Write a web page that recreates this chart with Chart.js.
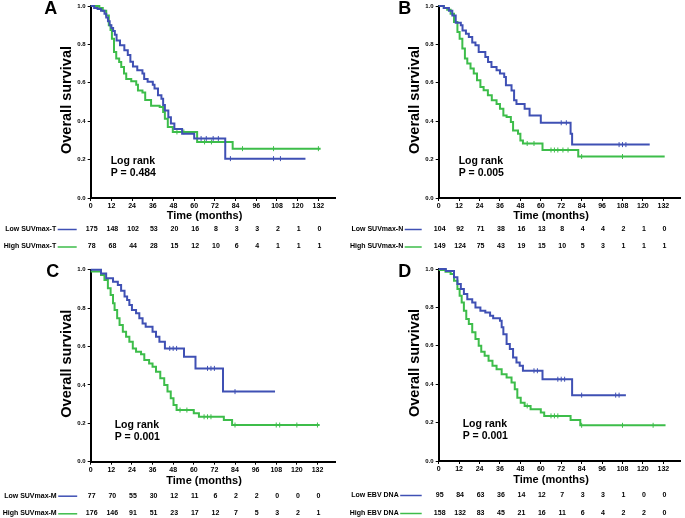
<!DOCTYPE html>
<html>
<head>
<meta charset="utf-8">
<script src="https://cdn.jsdelivr.net/npm/chart.js@4.4.1/dist/chart.umd.min.js"></script>
<style>
  body { margin: 0; background: #fff; }
  #wrap { position: relative; width: 685px; height: 518px; }
  .panel { position: absolute; }
</style>
</head>
<body>
<div id="wrap">
  <canvas class="panel" id="pA" width="340" height="262" style="left:0;top:0"></canvas>
  <canvas class="panel" id="pB" width="345" height="262" style="left:340px;top:0"></canvas>
  <canvas class="panel" id="pC" width="340" height="255" style="left:0;top:263px"></canvas>
  <canvas class="panel" id="pD" width="345" height="255" style="left:340px;top:263px"></canvas>
</div>
<script>
// time axis ticks (months)
var monthTicks = [0, 12, 24, 36, 48, 60, 72, 84, 96, 108, 120, 132];

// survival curves: [month, survival] at each step
var lowSuvT = [[0,1],[2,0.99],[4,0.985],[6,0.975],[8,0.96],[9,0.94],[10,0.92],[11,0.9],[12,0.885],[13,0.87],[14,0.85],[15,0.82],[17,0.795],[19.5,0.77],[21.5,0.745],[23,0.71],[24.5,0.685],[27,0.665],[30,0.648],[31,0.62],[33,0.605],[36,0.59],[37,0.57],[39,0.535],[41,0.517],[42,0.485],[43,0.456],[45,0.42],[46.5,0.388],[48.5,0.36],[53,0.335],[60,0.31],[78,0.205],[124.5,0.205]];
var highSuvT = [[0,1],[5,0.99],[7,0.975],[9,0.95],[10.5,0.9],[11.5,0.875],[12.3,0.83],[13.5,0.76],[14.8,0.727],[16.5,0.708],[17.7,0.682],[19.3,0.648],[20.6,0.62],[23.5,0.608],[26.4,0.59],[27.4,0.56],[30,0.549],[31.6,0.51],[35,0.48],[40,0.474],[42,0.448],[43,0.413],[44.7,0.37],[47.6,0.344],[61.7,0.292],[82.3,0.257],[133.3,0.257]];
var lowSuvN = [[0,1],[3,0.99],[6,0.975],[8,0.95],[10,0.913],[13,0.9],[14,0.873],[16,0.856],[17.7,0.839],[19.7,0.81],[21.6,0.795],[23.5,0.76],[27.4,0.734],[29,0.708],[31,0.682],[34,0.665],[36,0.648],[38.5,0.63],[39.5,0.587],[42.8,0.56],[44.3,0.509],[45.7,0.49],[50.5,0.465],[53.4,0.43],[60,0.392],[77.5,0.335],[78.4,0.278],[124,0.278]];
var highSuvN = [[0,1],[3,0.99],[5,0.98],[7,0.96],[9,0.917],[11,0.865],[12.3,0.83],[13.9,0.778],[15.4,0.726],[16.8,0.7],[18.7,0.674],[20.6,0.648],[22.5,0.613],[24.5,0.578],[26.4,0.561],[28.9,0.535],[31.2,0.509],[34,0.49],[36,0.465],[38,0.43],[39.9,0.422],[42.4,0.396],[43.7,0.352],[46.6,0.335],[48,0.3],[49.5,0.284],[61,0.25],[82,0.216],[132.8,0.216]];
var lowSuvM = [[0,1],[6,0.98],[9,0.955],[13,0.937],[15.8,0.92],[17.7,0.89],[19.7,0.86],[21.2,0.842],[22.5,0.816],[24,0.79],[26.4,0.773],[28.3,0.747],[30.2,0.72],[32,0.703],[36,0.677],[38,0.651],[40,0.625],[43.2,0.59],[54.3,0.547],[61,0.486],[77,0.365],[107.3,0.365]];
var highSuvM = [[0,0.99],[6,0.972],[8,0.946],[10,0.903],[11.6,0.868],[13,0.825],[13.9,0.79],[15.4,0.747],[16.8,0.712],[18.7,0.677],[20.6,0.651],[22.5,0.625],[24.5,0.59],[26.4,0.573],[29.3,0.559],[31.2,0.53],[34,0.512],[36,0.495],[38,0.469],[40.5,0.434],[42.8,0.4],[44.7,0.365],[46.6,0.33],[48.2,0.295],[50,0.269],[60,0.252],[63,0.234],[77.5,0.217],[82.3,0.191],[133.3,0.191]];
var lowEbv = [[0,1],[4.2,0.99],[9,0.957],[11,0.922],[13,0.896],[14.8,0.87],[16.8,0.843],[19.7,0.826],[21.6,0.8],[24.5,0.783],[27.4,0.774],[30.2,0.757],[32,0.743],[36,0.73],[37,0.696],[38,0.66],[39.9,0.609],[41.8,0.583],[43.7,0.539],[45.7,0.513],[47.6,0.496],[49.5,0.47],[61,0.426],[78.4,0.343],[110,0.343]];
var highEbv = [[0,0.995],[4,0.986],[7,0.974],[9,0.939],[11,0.896],[12.3,0.861],[13.5,0.826],[14.8,0.783],[16.2,0.739],[17.7,0.713],[19.7,0.67],[21.6,0.635],[23.5,0.6],[25,0.569],[27,0.548],[29.3,0.522],[31.6,0.496],[34,0.478],[37,0.452],[39.9,0.435],[42.8,0.409],[44.7,0.374],[46.2,0.33],[48.2,0.304],[50.5,0.287],[54,0.27],[60,0.252],[62,0.235],[77.5,0.214],[83.2,0.186],[133.3,0.186]];

// censored times (months)
var censLowSuvT = [64, 67, 71, 74, 81, 106, 110];
var censHighSuvT = [50, 54, 66, 70, 88, 106, 132];
var censLowSuvN = [72, 75, 106, 108, 110];
var censHighSuvN = [52, 56, 66, 68, 70, 73, 76, 84, 108];
var censLowSuvM = [46, 48, 50, 68, 70, 72, 84];
var censHighSuvM = [52, 56, 66, 68, 70, 84, 108, 110, 120, 132];
var censLowEbv = [56, 58, 70, 72, 74, 84, 104, 106];
var censHighEbv = [52, 66, 68, 70, 84, 108, 126];

// numbers at risk
var riskLowSuvT = [175, 148, 102, 53, 20, 16, 8, 3, 3, 2, 1, 0];
var riskHighSuvT = [78, 68, 44, 28, 15, 12, 10, 6, 4, 1, 1, 1];
var riskLowSuvN = [104, 92, 71, 38, 16, 13, 8, 4, 4, 2, 1, 0];
var riskHighSuvN = [149, 124, 75, 43, 19, 15, 10, 5, 3, 1, 1, 1];
var riskLowSuvM = [77, 70, 55, 30, 12, 11, 6, 2, 2, 0, 0, 0];
var riskHighSuvM = [176, 146, 91, 51, 23, 17, 12, 7, 5, 3, 2, 1];
var riskLowEbv = [95, 84, 63, 36, 14, 12, 7, 3, 3, 1, 0, 0];
var riskHighEbv = [158, 132, 83, 45, 21, 16, 11, 6, 4, 2, 2, 0];

var BLUE = '#3f50b4';
var GREEN = '#3dbd4a';
var FONT = '"Liberation Sans", Arial, sans-serif';

// survival value at time t from a step curve
function survAt(curve, t) {
  var s = curve[0][1];
  for (var i = 0; i < curve.length; i++) {
    if (curve[i][0] <= t) s = curve[i][1];
  }
  return s;
}

function censorPoints(curve, times) {
  return times.map(function(t) { return { x: t, y: survAt(curve, t) }; });
}

// texts around each panel: letter, axis titles, log rank, risk table
var kmText = {
  id: 'kmText',
  afterDraw: function(chart, args, o) {
    var ctx = chart.ctx, a = chart.chartArea, xs = chart.scales.x;
    ctx.save();
    ctx.fillStyle = '#000';
    ctx.textBaseline = 'middle';

    ctx.font = 'bold 18px ' + FONT;
    ctx.textAlign = 'center';
    ctx.fillText(o.letter, a.left - o.letterOff, 9);

    ctx.save();
    ctx.translate(a.left - 23.5, (a.top + a.bottom) / 2 - 2);
    ctx.rotate(-Math.PI / 2);
    ctx.font = 'bold 14.5px ' + FONT;
    ctx.fillText('Overall survival', 0, 0);
    ctx.restore();

    ctx.font = 'bold 11px ' + FONT;
    ctx.fillText('Time (months)', xs.getPixelForValue(66), a.bottom + o.titleOff);

    ctx.textAlign = 'left';
    ctx.font = 'bold 10.5px ' + FONT;
    ctx.fillText('Log rank', a.left + o.lrOff, a.bottom - 37);
    ctx.fillText(o.pText, a.left + o.lrOff, a.bottom - 24.5);

    var rows = [
      { label: o.lowLabel, risk: o.lowRisk, color: BLUE, y: a.bottom + o.row1 },
      { label: o.highLabel, risk: o.highRisk, color: GREEN, y: a.bottom + o.row2 }
    ];
    rows.forEach(function(r) {
      ctx.font = 'bold 7px ' + FONT;
      ctx.textAlign = 'right';
      ctx.fillText(r.label, a.left - o.labEnd, r.y);
      ctx.strokeStyle = r.color;
      ctx.lineWidth = 1.5;
      ctx.beginPath();
      ctx.moveTo(a.left - o.labEnd + 1.5, r.y + 0.5);
      ctx.lineTo(a.left - o.lineEnd, r.y + 0.5);
      ctx.stroke();
      ctx.textAlign = 'center';
      r.risk.forEach(function(n, i) {
        ctx.fillText(String(n), xs.getPixelForValue(monthTicks[i]) + 1, r.y);
      });
    });
    ctx.restore();
  }
};

function makePanel(id, p) {
  var cv = document.getElementById(id);
  var W = cv.width, H = cv.height;
  new Chart(cv, {
    type: 'line',
    data: {
      datasets: [
        { data: p.low.map(function(d) { return { x: d[0], y: d[1] }; }), borderColor: BLUE, borderWidth: 2, stepped: true, pointRadius: 0, clip: 5 },
        { data: p.high.map(function(d) { return { x: d[0], y: d[1] }; }), borderColor: GREEN, borderWidth: 2, stepped: true, pointRadius: 0, clip: 5 },
        { data: censorPoints(p.low, p.lowCens), showLine: false, pointStyle: 'line', rotation: 90, pointRadius: 2.5, borderColor: BLUE, borderWidth: 1, clip: 5 },
        { data: censorPoints(p.high, p.highCens), showLine: false, pointStyle: 'line', rotation: 90, pointRadius: 2.5, borderColor: GREEN, borderWidth: 1, clip: 5 }
      ]
    },
    options: {
      responsive: false,
      animation: false,
      devicePixelRatio: 1,
      layout: { padding: { left: 0, top: p.top, right: W - p.right, bottom: 0 } },
      plugins: {
        legend: { display: false },
        tooltip: { enabled: false },
        kmText: p
      },
      scales: {
        x: {
          type: 'linear', min: 0, max: (p.right - p.left) / p.pxPerMonth,
          afterBuildTicks: function(s) { s.ticks = monthTicks.map(function(v) { return { value: v }; }); },
          afterFit: function(s) { s.height = H - p.bottom; },
          border: { display: true, color: '#000', width: 2 },
          grid: { drawOnChartArea: false, drawTicks: true, tickLength: 3, color: '#000', lineWidth: 1 },
          ticks: { color: '#000', font: { family: FONT, size: 7, weight: 'bold' }, padding: 1, maxRotation: 0, autoSkip: false }
        },
        y: {
          min: 0, max: 1,
          afterFit: function(s) { s.width = p.left; },
          border: { display: true, color: '#000', width: 2 },
          grid: { drawOnChartArea: false, drawTicks: true, tickLength: 3, color: '#000', lineWidth: 1 },
          ticks: { stepSize: 0.2, color: '#000', font: { family: FONT, size: 6, weight: 'bold' }, padding: 2,
                   callback: function(v) { return v.toFixed(1); } }
        }
      }
    },
    plugins: [kmText]
  });
}

makePanel('pA', { letter: 'A', left: 90.7, top: 6, bottom: 198, right: 336, pxPerMonth: 1.732,
  low: lowSuvT, high: highSuvT, lowCens: censLowSuvT, highCens: censHighSuvT,
  lowRisk: riskLowSuvT, highRisk: riskHighSuvT, lowLabel: 'Low SUVmax-T', highLabel: 'High SUVmax-T',
  pText: 'P = 0.484', letterOff: 40, titleOff: 18, lrOff: 20, row1: 31, row2: 48.5, labEnd: 34.5, lineEnd: 14 });
makePanel('pB', { letter: 'B', left: 98.7, top: 6, bottom: 198, right: 345, pxPerMonth: 1.737,
  low: lowSuvN, high: highSuvN, lowCens: censLowSuvN, highCens: censHighSuvN,
  lowRisk: riskLowSuvN, highRisk: riskHighSuvN, lowLabel: 'Low SUVmax-N', highLabel: 'High SUVmax-N',
  pText: 'P = 0.005', letterOff: 34, titleOff: 18, lrOff: 20, row1: 31, row2: 48.5, labEnd: 35.5, lineEnd: 17 });
makePanel('pC', { letter: 'C', left: 90.7, top: 6.7, bottom: 198.7, right: 337, pxPerMonth: 1.732,
  low: lowSuvM, high: highSuvM, lowCens: censLowSuvM, highCens: censHighSuvM,
  lowRisk: riskLowSuvM, highRisk: riskHighSuvM, lowLabel: 'Low SUVmax-M', highLabel: 'High SUVmax-M',
  pText: 'P = 0.001', letterOff: 38, titleOff: 19, lrOff: 24, row1: 34, row2: 51.6, labEnd: 34, lineEnd: 13.5 });
makePanel('pD', { letter: 'D', left: 98.7, top: 6, bottom: 198, right: 345, pxPerMonth: 1.737,
  low: lowEbv, high: highEbv, lowCens: censLowEbv, highCens: censHighEbv,
  lowRisk: riskLowEbv, highRisk: riskHighEbv, lowLabel: 'Low EBV DNA', highLabel: 'High EBV DNA',
  pText: 'P = 0.001', letterOff: 34, titleOff: 19, lrOff: 24, row1: 34, row2: 52, labEnd: 40, lineEnd: 17 });
</script>
</body>
</html>
